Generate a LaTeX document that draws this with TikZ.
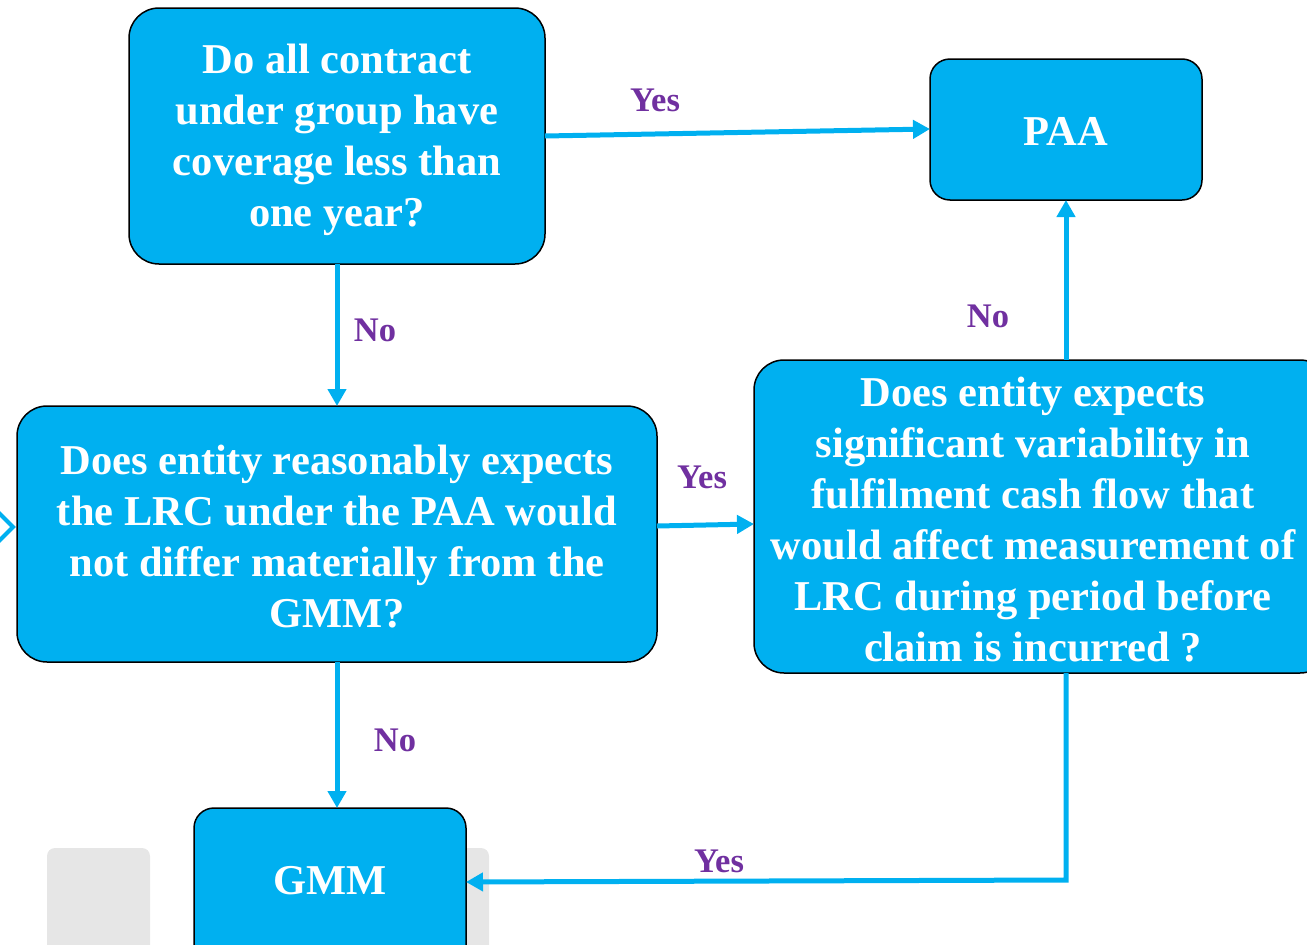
\documentclass[tikz,border=0pt]{standalone}
\usepackage{fontspec}
\setmainfont{Liberation Serif}
\usetikzlibrary{arrows.meta}
\definecolor{boxblue}{HTML}{00B0F0}
\definecolor{lblpurple}{HTML}{7030A0}
\definecolor{ghost}{HTML}{E6E6E6}
\tikzset{
  flowbox/.style={draw=black, line width=1.5pt, fill=boxblue, rounded corners=#1},
  flowbox/.default=30pt,
  boxtext/.style={text=white, font=\fontsize{42.5}{51}\selectfont\bfseries, align=center, inner sep=0pt},
  conn/.style={draw=boxblue, line width=5pt, -{Triangle[length=17pt,width=18pt]}},
  lbl/.style={text=lblpurple, font=\fontsize{34.5}{40}\selectfont\bfseries, inner sep=0pt},
}
\begin{document}
\begin{tikzpicture}[x=1pt,y=-1pt]
\useasboundingbox (0,0) rectangle (1307,945);
\clip (0,0) rectangle (1307,945);
% ghost squares
\fill[ghost, rounded corners=8pt] (47,848) rectangle (150,960);
\fill[ghost, rounded corners=8pt] (420,848) rectangle (489,960);
% chevron at left edge
\draw[boxblue, line width=4pt] (-6,508) -- (13,527) -- (-6,546);
% boxes
\draw[flowbox] (129,8) rectangle (545,264);
\node[boxtext] (q1) at (337,140) {Do all contract\\under group have\\coverage less than\\one year?};
\draw[flowbox=20pt] (930,59) rectangle (1202,200);
\node[boxtext] (paa) at (1066,131) {PAA};
\draw[flowbox] (17,406) rectangle (657,662);
\node[boxtext] (q2) at (337,537) {Does entity reasonably expects\\the LRC under the PAA would\\not differ materially from the\\GMM?};
\draw[flowbox] (754,360) rectangle (1330,673);
\node[boxtext] (q3) at (1033,520) {Does entity expects\\significant variability in\\fulfilment cash flow that\\would affect measurement of\\LRC during period before\\claim is incurred ?};
\draw[flowbox=20pt] (194,808) rectangle (466,970);
\node[boxtext] (gmm) at (330,881) {GMM};
% anchor coordinates on box borders
\coordinate (q1r) at (545,136);
\coordinate (paal) at (930,129);
\coordinate (q1b) at (337,264);
\coordinate (q2t) at (337,406);
\coordinate (q2r) at (657,526);
\coordinate (q3l) at (754,524);
\coordinate (q3t) at (1066,360);
\coordinate (paab) at (1066,200);
\coordinate (q2b) at (337,662);
\coordinate (gmmt) at (337,808);
\coordinate (q3b) at (1066,673);
\coordinate (corner) at (1066,880);
\coordinate (gmmr) at (466,882);
% connectors
\draw[conn] (q1r) -- (paal);
\draw[conn] (q1b) -- (q2t);
\draw[conn] (q2r) -- (q3l);
\draw[conn] (q3t) -- (paab);
\draw[conn] (q2b) -- (gmmt);
\draw[conn] (q3b) -- (corner) -- (gmmr);
% labels
\node[lbl] (l1) at (655,100) {Yes};
\node[lbl] (l2) at (375,330) {No};
\node[lbl] (l3) at (702,477) {Yes};
\node[lbl] (l4) at (988,316) {No};
\node[lbl] (l5) at (395,740) {No};
\node[lbl] (l6) at (719,861) {Yes};
\end{tikzpicture}
\end{document}
